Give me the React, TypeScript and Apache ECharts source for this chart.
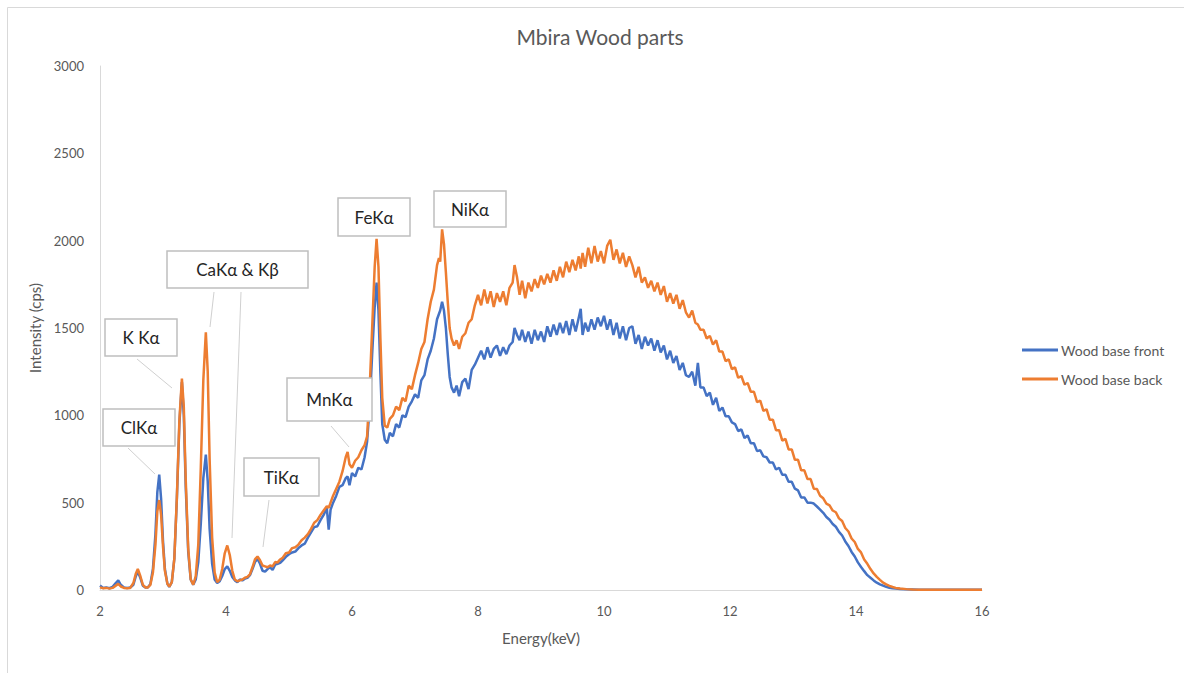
import React, { useEffect, useRef } from "react";
import * as echarts from "echarts";

const title = "Mbira Wood parts";
const seriesNames = ["Wood base front", "Wood base back"];
const xTicks = [2, 4, 6, 8, 10, 12, 14, 16];
const yTicks = [0, 500, 1000, 1500, 2000, 2500, 3000];

const energies = [
  2.0, 2.05, 2.1, 2.15, 2.2, 2.25, 2.29, 2.33, 2.38, 2.43,
  2.48, 2.53, 2.57, 2.6, 2.64, 2.68, 2.72, 2.76, 2.8, 2.84,
  2.88, 2.91, 2.94, 2.97, 3.0, 3.03, 3.07, 3.1, 3.14, 3.18,
  3.22, 3.26, 3.3, 3.33, 3.36, 3.4, 3.44, 3.48, 3.52, 3.56,
  3.6, 3.64, 3.68, 3.71, 3.74, 3.78, 3.82, 3.86, 3.9, 3.94,
  3.98, 4.02, 4.06, 4.1, 4.14, 4.18, 4.22, 4.26, 4.3, 4.34,
  4.38, 4.42, 4.46, 4.5, 4.54, 4.58, 4.62, 4.66, 4.7, 4.74,
  4.78, 4.82, 4.86, 4.9, 4.95, 5.0, 5.05, 5.1, 5.15, 5.2,
  5.25, 5.3, 5.35, 5.4, 5.45, 5.5, 5.55, 5.6, 5.63, 5.66,
  5.7, 5.75, 5.8, 5.85, 5.9, 5.93, 5.96, 6.0, 6.05, 6.1,
  6.15, 6.2, 6.24, 6.28, 6.32, 6.36, 6.39, 6.42, 6.45, 6.48,
  6.52, 6.56, 6.6, 6.65, 6.7, 6.75, 6.8, 6.85, 6.9, 6.95,
  7.0, 7.05, 7.1, 7.15, 7.2, 7.25, 7.3, 7.35, 7.38, 7.4,
  7.43, 7.46, 7.49, 7.52, 7.55, 7.58, 7.62, 7.66, 7.7, 7.75,
  7.8, 7.85, 7.9, 7.95, 8.0, 8.05, 8.1, 8.15, 8.2, 8.25,
  8.3, 8.35, 8.4, 8.45, 8.5, 8.55, 8.58, 8.62, 8.66, 8.7,
  8.75, 8.8, 8.85, 8.9, 8.95, 9.0, 9.05, 9.1, 9.15, 9.2,
  9.25, 9.3, 9.35, 9.4, 9.45, 9.5, 9.55, 9.6, 9.63, 9.66,
  9.7, 9.75, 9.8, 9.85, 9.9, 9.95, 10.0, 10.05, 10.1, 10.15,
  10.2, 10.25, 10.3, 10.35, 10.4, 10.45, 10.5, 10.55, 10.6, 10.65,
  10.7, 10.75, 10.8, 10.85, 10.9, 10.95, 11.0, 11.05, 11.1, 11.15,
  11.2, 11.25, 11.3, 11.35, 11.4, 11.45, 11.49, 11.53, 11.58, 11.63,
  11.68, 11.73, 11.78, 11.83, 11.88, 11.93, 11.98, 12.03, 12.08, 12.13,
  12.18, 12.23, 12.28, 12.33, 12.38, 12.43, 12.48, 12.53, 12.58, 12.63,
  12.68, 12.73, 12.78, 12.83, 12.88, 12.93, 12.98, 13.03, 13.08, 13.13,
  13.18, 13.23, 13.28, 13.33, 13.38, 13.43, 13.48, 13.53, 13.58, 13.63,
  13.68, 13.73, 13.78, 13.83, 13.88, 13.93, 13.98, 14.03, 14.08, 14.13,
  14.18, 14.23, 14.28, 14.33, 14.38, 14.43, 14.48, 14.53, 14.58, 14.63,
  14.7, 14.8, 14.9, 15.0, 15.25, 15.5, 15.75, 16.0,
];

const front = [
  25, 12, 15, 10, 18, 40, 55, 30, 15, 12,
  14, 30, 80, 105, 70, 25, 15, 15, 35, 120,
  320, 560, 660, 520, 280, 120, 35, 18, 45, 180,
  520, 950, 1190, 1000, 600, 220, 60, 30, 60, 160,
  380, 640, 775, 620, 350, 150, 60, 40, 50, 80,
  120, 135, 110, 75, 55, 45, 60, 55, 65, 70,
  85, 120, 160, 178, 150, 110, 105, 120, 130, 115,
  145, 150, 155, 170, 190, 205, 215, 220, 240, 255,
  265, 300, 330, 360, 365, 400, 430, 470, 345, 460,
  500, 540, 590, 600, 640, 650, 600, 670, 650, 700,
  690, 760, 850, 1050, 1350, 1620, 1760, 1600, 1250, 950,
  860, 840, 900, 880, 950, 930, 1000, 990, 1050, 1080,
  1120, 1100, 1200, 1230, 1320, 1370, 1440, 1550, 1580, 1600,
  1650, 1600, 1500, 1350, 1220, 1160, 1130, 1170, 1110, 1190,
  1210, 1150, 1260, 1290, 1330, 1370, 1320, 1390, 1330, 1380,
  1400, 1340, 1390, 1350, 1400, 1420, 1500, 1460, 1430, 1490,
  1420, 1480, 1410, 1490, 1430, 1480, 1420, 1510, 1450, 1520,
  1460, 1530, 1470, 1540, 1460, 1550, 1480, 1560, 1610, 1460,
  1530, 1480, 1550, 1490, 1560, 1510, 1570, 1490, 1550, 1460,
  1530, 1440, 1510, 1430, 1500, 1510, 1410, 1460, 1380, 1450,
  1400, 1440, 1370, 1430, 1360, 1400, 1320, 1370, 1300, 1340,
  1260, 1300, 1230, 1220, 1250, 1170, 1300, 1160, 1160, 1110,
  1130, 1060, 1100, 1025, 1045, 995, 995, 960, 950, 910,
  920, 870, 885, 840, 840, 795, 800, 765, 760, 730,
  730, 690, 700, 660, 660, 620, 620, 580, 570, 530,
  530, 500, 500, 495, 478, 460, 442, 418, 402, 378,
  362, 333, 312, 278, 252, 218, 192, 158, 132, 108,
  85, 70, 55, 42, 32, 25, 18, 13, 10, 8,
  6, 4, 3, 2, 2, 2, 1, 1,
];

const back = [
  15, 10, 12, 8, 12, 25, 35, 20, 12, 10,
  12, 40, 95, 120, 80, 30, 15, 15, 30, 100,
  260, 450, 515, 430, 250, 110, 35, 20, 45, 180,
  530, 970, 1210, 1050, 640, 240, 60, 30, 80, 260,
  700, 1200, 1475, 1250, 750, 300, 100, 45, 60, 120,
  210, 255, 200, 110, 60, 50, 55, 60, 70, 75,
  90, 130, 175, 192, 170, 140, 135, 130, 140, 135,
  160, 158, 175, 185, 210, 215, 240, 245, 260, 285,
  300, 320, 350, 385, 400, 430, 455, 480, 470, 500,
  540, 580, 620, 680, 760, 790, 720, 700, 740, 760,
  800, 830, 880, 1150, 1500, 1850, 2010, 1850, 1450, 1100,
  940, 930, 980, 1000, 1050, 1030, 1100, 1080, 1170, 1150,
  1230, 1300, 1380, 1420, 1550, 1650, 1720, 1860, 1900, 1880,
  2065, 1980, 1820, 1650, 1500, 1440, 1400, 1430, 1380, 1450,
  1470, 1530, 1550, 1630, 1690, 1630, 1720, 1640, 1710, 1620,
  1700, 1650, 1710, 1630, 1730, 1760, 1860, 1790, 1690, 1770,
  1670, 1760, 1710, 1780, 1730, 1800, 1750, 1810, 1760, 1830,
  1770, 1850, 1790, 1880, 1820, 1890, 1830, 1910, 1840, 1930,
  1850, 1960, 1870, 1970, 1880, 1940, 1870, 1970, 2005, 1890,
  1950, 1870, 1930, 1850, 1910, 1860, 1790, 1850, 1760, 1790,
  1730, 1770, 1710, 1760, 1690, 1740, 1650, 1700, 1640, 1690,
  1610, 1660, 1590, 1560, 1600, 1530, 1520, 1490, 1490, 1440,
  1455, 1405, 1430, 1365, 1365, 1310, 1320, 1265, 1275, 1215,
  1225, 1175, 1185, 1135, 1135, 1075, 1085, 1025, 1035, 975,
  975, 915, 915, 855, 865, 805, 805, 745, 745, 685,
  685, 635, 635, 580, 578, 540, 525, 495, 485, 455,
  445, 410, 395, 355, 335, 295, 275, 235, 215, 175,
  150, 120, 95, 75, 58, 42, 32, 24, 17, 12,
  8, 5, 3, 2, 2, 1, 1, 1,
];

const annotations = [
  { text: "ClKα", box: [103, 409, 72, 37], line: [128, 448, 155, 474] },
  { text: "K Kα", box: [105, 319, 72, 37], line: [137, 359, 172, 388] },
  { text: "CaKα & Kβ", box: [167, 251, 141, 37], line: [214, 292, 210, 327] },
  { text: "TiKα", box: [244, 458, 75, 38], line: [269, 500, 263, 547] },
  { text: "MnKα", box: [287, 378, 85, 43], line: [331, 426, 349, 447] },
  { text: "FeKα", box: [338, 198, 72, 38], line: null },
  { text: "NiKα", box: [434, 191, 72, 36], line: null },
];
const extraLines = [[241, 292, 232, 538]];

const FONT = "Lato, 'Open Sans', sans-serif";
const GREY = "#595959";

export default function App() {
  const ref = useRef<HTMLDivElement>(null);
  useEffect(() => {
    if (!ref.current) return;
    const chart = echarts.init(ref.current, null, { renderer: "svg" });
    const graphics: any[] = [
      {
        type: "rect",
        shape: { x: 7.5, y: 7.5, width: 1200, height: 700 },
        style: { fill: "none", stroke: "#d9d9d9", lineWidth: 1 },
        silent: true,
        z: 0,
      },
    ];
    const allLines = annotations.filter((a) => a.line).map((a) => a.line as number[]).concat(extraLines);
    allLines.forEach((l) => {
      graphics.push({
        type: "line",
        shape: { x1: l[0], y1: l[1], x2: l[2], y2: l[3] },
        style: { stroke: "#d0d0d0", lineWidth: 1 },
        z: 10,
      });
    });
    annotations.forEach((a) => {
      const [x, y, w, h] = a.box;
      graphics.push({
        type: "rect",
        shape: { x, y, width: w, height: h },
        style: { fill: "#ffffff", stroke: "#bfbfbf", lineWidth: 1.5 },
        z: 10,
      });
      graphics.push({
        type: "text",
        x: x + w / 2,
        y: y + h / 2,
        style: {
          text: a.text,
          fill: "#262626",
          font: `17px ${FONT}`,
          textAlign: "center",
          textVerticalAlign: "middle",
        },
        z: 11,
      });
    });

    chart.setOption({
      animation: false,
      backgroundColor: "#ffffff",
      title: {
        text: title,
        left: 600,
        top: 26,
        textAlign: "center",
        padding: 0,
        textStyle: { fontFamily: FONT, fontSize: 21, fontWeight: "normal", color: GREY },
      },
      legend: {
        orient: "vertical",
        left: 1022,
        top: 343,
        padding: 0,
        itemGap: 15,
        itemWidth: 36,
        itemHeight: 3,
        icon: "rect",
        data: seriesNames,
        textStyle: { fontFamily: FONT, fontSize: 14, color: GREY, padding: [0, 0, 0, -2] },
      },
      grid: { left: 100, right: 202, top: 66, bottom: 83, containLabel: false },
      xAxis: {
        type: "value",
        min: xTicks[0],
        max: xTicks[xTicks.length - 1],
        interval: 2,
        name: "Energy(keV)",
        nameLocation: "middle",
        nameGap: 40,
        nameTextStyle: { fontFamily: FONT, fontSize: 15, color: GREY },
        axisLine: { show: true, lineStyle: { color: "#d9d9d9", width: 1 } },
        axisTick: { show: false },
        splitLine: { show: false },
        axisLabel: { fontFamily: FONT, fontSize: 13, color: GREY, margin: 14, formatter: (v: number) => String(v) },
      },
      yAxis: {
        type: "value",
        min: yTicks[0],
        max: yTicks[yTicks.length - 1],
        interval: 500,
        name: "Intensity (cps)",
        nameLocation: "middle",
        nameGap: 56,
        nameTextStyle: { fontFamily: FONT, fontSize: 15, color: GREY },
        axisLine: { show: true, lineStyle: { color: "#d9d9d9", width: 1 } },
        axisTick: { show: false },
        splitLine: { show: false },
        axisLabel: { fontFamily: FONT, fontSize: 13, color: GREY, margin: 16, formatter: (v: number) => String(v) },
      },
      series: [
        {
          name: seriesNames[0],
          type: "line",
          symbol: "none",
          data: energies.map((e, i) => [e, front[i]]),
          lineStyle: { color: "#4472C4", width: 2.5 },
          itemStyle: { color: "#4472C4" },
          z: 2,
        },
        {
          name: seriesNames[1],
          type: "line",
          symbol: "none",
          data: energies.map((e, i) => [e, back[i]]),
          lineStyle: { color: "#ED7D31", width: 2.5 },
          itemStyle: { color: "#ED7D31" },
          z: 3,
        },
      ],
      graphic: graphics,
    });
    return () => chart.dispose();
  }, []);
  return (
    <div
      ref={ref}
      style={{ position: "fixed", left: 0, top: 0, width: 1184, height: 673, background: "#fff" }}
    />
  );
}
